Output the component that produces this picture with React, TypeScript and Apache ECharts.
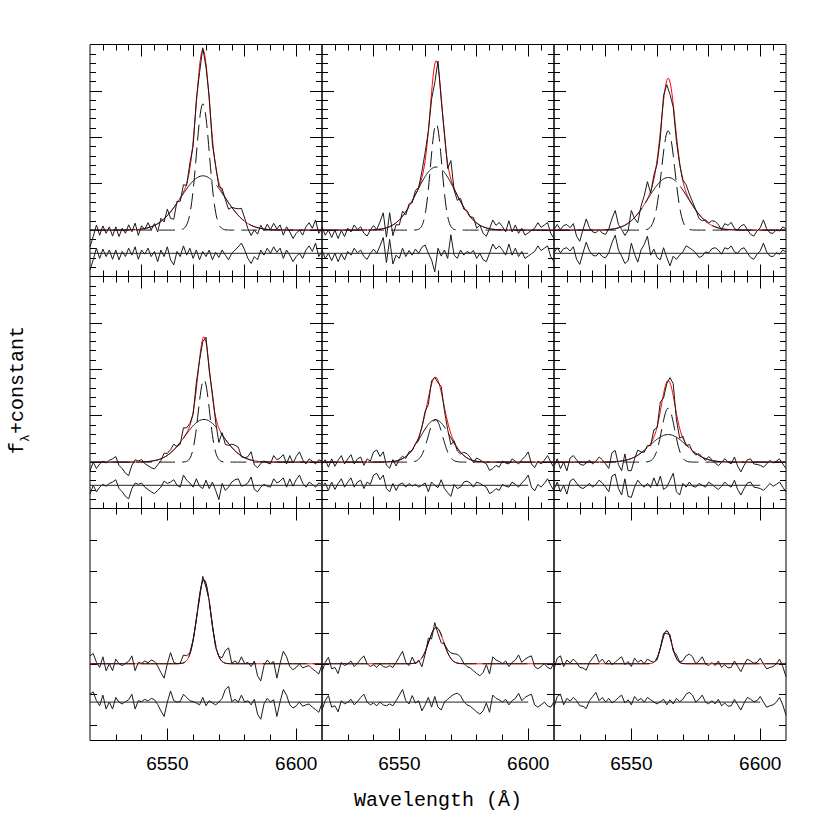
import React, { useEffect, useRef } from "react";
import * as echarts from "echarts";

// ---------- wavelength sampling ----------
const WAVE_MIN = 6520;
const WAVE_MAX = 6610;
const WAVE_STEP = 1.25; // spectral pixel size (Å)
const MODEL_STEP = 0.25;

// ---------- tick labels ----------
const X_LABELS_BOTTOM = [6550, 6600];
const X_MAJOR_TOP = [6540, 6560, 6580, 6600];
const X_MINOR_TOP = [6525, 6530, 6535, 6545, 6550, 6555, 6565, 6570, 6575, 6585, 6590, 6595, 6605];
const X_MAJOR_BOTTOM = [6550, 6600];
const X_MINOR_BOTTOM = [6530, 6540, 6560, 6570, 6580, 6590];
const Y_MAJOR_TOP = [5, 10, 15, 20];
const Y_MINOR_TOP = [1, 2, 3, 4, 6, 7, 8, 9, 11, 12, 13, 14, 16, 17, 18, 19, 21, 22, 23, 24];
const Y_TICKS_BOTTOM = [1.59, 4.93, 8.27, 11.61, 14.95, 18.29, 21.63];

// ---------- fitted model parameters per panel (TL, TM, TR, ML, MM, MR, BL, BM, BR) ----------
const CONTINUUM = [5, 5, 5, 5, 5, 5, 8.27, 8.27, 8.27];
const RESID_BASE = [2.5, 2.5, 2.5, 2.5, 2.5, 2.5, 4.14, 4.14, 4.14];
const RESID_BASE_END = [6610, 6600, 6610, 6610, 6600, 6600, 6610, 6600, 6600];
const LINE_CENTER = [6563.8, 6564.3, 6564.3, 6564.2, 6564.0, 6564.3, 6564.2, 6564.3, 6563.7];
const BROAD_AMP = [5.85, 6.8, 5.67, 4.6, 4.56, 2.97, 0, 0, 0];
const BROAD_SIGMA = [8.5, 7.5, 7.7, 7.4, 5.7, 7.1, 1, 1, 1];
const NARROW_AMP = [13.6, 11.45, 10.7, 8.9, 4.6, 5.82, 9.05, 3.9, 3.55];
const NARROW_SIGMA = [2.5, 2.2, 2.6, 2.2, 2.8, 2.5, 2.63, 2.9, 2.0];

// ---------- residuals (data − fit), one value per spectral pixel ----------
const RESID_TL = [
  -1.8, -0.7, 0.55, -0.55, 0.45, -0.35, 0.35, -0.65, 0.35, -0.7,
  0.2, -0.35, 0.55, -0.2, 0.7, -0.65, 0.35, -0.1, 0.55, -0.35,
  0.2, -0.9, 0.35, -0.35, 0.7, -0.7, -1.25, 0.2, -0.35, 0.8,
  -0.2, 0.55, -0.55, 0.35, -0.7, 0.2, -0.35, 0.35, -0.7, 0.1,
  -0.45, 0.35, -0.2, -0.7, 0, 0.35, 0.7, 1.1, 0.35, -0.55,
  -1.1, -0.35, -0.7, 0.35, -0.2, 0.55, 0, 0.7, 0.1, 0.55,
  -0.55, 0.35, -0.2, -0.9, -0.35, 0, -0.55, 0.35, 0.8, 0.2,
  1.1, -0.35, 0.2,
];
const RESID_TM = [
  0.35, -0.55, 0, -0.8, 0, -0.9, -0.05, -0.7, 0.2, -0.2,
  0.55, 0.05, 0.35, -0.35, -0.65, 0, 0.45, 0, 0.8, 1.7,
  -1.0, 1.5, -1.15, -0.2, -0.55, 0.55, -0.35, 0.3, -0.2, 0.45,
  0, 0.65, 0.9, 0, -0.7, -2.0, 0.55, -0.3, 0.35, -0.55,
  2.0, -0.2, -0.55, 0.35, -0.2, 0.2, 0, 0.3, -0.55, 0,
  -0.7, -0.9, 0, 1.0, 0.45, 0.8, 0.35, -0.2, 1.0, -0.2,
  0.55, -0.35, 0.2, -0.55, -0.3, -0.05, 0.2, 0.8, 0.3, 0.55,
  0.8, -0.35, -0.9,
];
const RESID_TR = [
  0.05, 0.6, 0.05, 0.5, 0.6, 0.25, 0.7, -0.65, -1.2, 0.05,
  1.2, 0.25, -0.2, -0.3, 0.05, -0.35, -0.5, 0.05, 1.15, 1.95,
  0.35, -0.3, -1.1, -0.8, 1.1, -0.1, -0.95, 0.35, 0.95, 1.85,
  -0.2, 0.45, -0.45, -0.7, 0.6, -0.45, -1.35, -0.3, -0.65, -0.2,
  0.15, 0.8, 0.6, 0.35, 0.05, -0.45, -0.3, 0.15, 0.05, 0.5,
  0.6, 0.35, -0.1, 0.6, 0.45, 0.8, 0.15, 0, 0.45, 0.6,
  0.05, -0.45, -0.65, -0.1, 0.25, 1.1, 0.15, -0.3, -0.35, 0.05,
  -0.1, 0.35, 0.15,
];
const RESID_ML = [
  -0.95, 0, -0.7, -0.2, 0.1, -0.1, 0.2, 0.35, 0.6, -0.35,
  -0.7, -1.2, -1.45, -0.35, 0.25, 0.1, 0.25, -0.2, -0.45, -0.7,
  -0.9, -0.55, -0.2, 0.45, 0.2, 0.35, 0.6, 0, -0.2, 1.1,
  0.55, 0.25, -0.2, 0.7, -0.1, -0.35, 0.55, -0.35, 0.35, -0.55,
  -1.55, 0.2, -0.55, -0.2, 0.35, 0.6, 0.7, -0.1, 0, 0.25,
  0.9, -0.45, -0.7, -0.2, 0.1, -0.1, -0.2, 0.7, 0.25, 0.45,
  0.8, -0.2, 0.7, -0.1, 0.6, 1.1, 0.25, -0.2, 0.35, 0.1,
  -0.2, 0.25, 0.1,
];
const RESID_MM = [
  -0.2, 0.25, -0.55, 0.35, -0.45, 0.2, 0.7, -0.2, 0.35, 0.8,
  -0.2, 0.35, 0.55, -0.35, 0.35, 0.1, 1.1, 1.3, 0.6, 1.1,
  -0.35, -0.7, 0.2, -0.55, 0.1, 0.25, -0.2, 0.2, -0.1, 0.1,
  -0.2, 0, 0.25, -0.7, 0.35, 0, -0.25, 0.6, -0.35, -0.8,
  -1.2, 0.1, -0.35, -0.2, 0.35, 0.45, 0.25, -0.2, 0.35, 0.2,
  0, -0.2, -0.9, -0.7, -0.35, -0.55, 0.1, -0.1, -0.2, 0.35,
  0.1, -0.2, 0.25, 0.6, 1.1, -0.2, -0.6, 0.1, -0.2, 0.2,
  0.7, 0, -0.6,
];
const RESID_MR = [
  -0.45, 0.35, -0.7, 0, -0.95, 0.45, 0.7, 0.25, -0.2, -0.35,
  -0.1, 0.2, -0.2, 0.1, 0.55, 0.25, -0.2, -0.7, 1.0, 1.2,
  -0.35, -1.05, 0.7, -1.2, -1.3, -0.2, 0.55, 0.1, -0.2, 0.2,
  -0.25, 0.8, -0.1, 1.0, -0.45, -0.2, 0.55, 1.3, -0.7, -1.05,
  0.2, -0.2, 0.35, -0.1, -0.2, 0.2, 0, -0.2, 0.35, 0.1,
  -0.2, -0.45, -0.1, 0.35, 0, -0.2, 0.55, -0.45, -1.05, -0.35,
  0.25, 0.35, -0.2, -0.25, -0.35, -0.55, -0.2, 0.2, -0.1, 0.1,
  0.35, -0.2, -0.7,
];
const RESID_BL = [
  0.85, 1.1, 0.15, -0.4, 0.75, -0.75, 0, -0.75, 0.5, 0,
  -0.2, 0.05, 0.25, 0.85, -0.75, 0.15, 0.05, 0.3, 0.1, 0.4,
  0.25, -0.25, -0.95, -1.55, 0, 1.2, 0.15, 0, 0.05, 0.85,
  0.5, 0.15, 0.05, -0.1, -0.3, 0.5, -0.4, 0.15, -0.1, -0.3,
  0, 0.4, 1.35, 1.7, 0.05, 0.3, 0, 0.75, 0, 0.15,
  -0.3, 0.3, -1.3, -1.85, -0.2, 0.4, 0, 0.25, -1.55, 0.05,
  1.35, 0.75, -0.3, -0.65, -0.4, 0, -0.45, -0.3, -0.2, -0.55,
  -0.8, -1.1, -0.1,
];
const RESID_BM = [
  -0.85, 0.15, 0.7, -0.55, -0.4, -1.05, 0.15, -0.2, 0, 0.3,
  -0.3, 0.05, 0.5, 0.85, 0, -0.3, -0.1, -0.4, 0, -0.3,
  -0.4, -0.2, -0.4, 0.15, 0.75, 1.35, 0.15, -0.2, 0.7, -0.1,
  0.15, -0.95, -0.3, 0.5, -0.55, 0.6, -0.55, -0.85, 0, 0.3,
  0.6, 0.85, 0.95, 0.7, 0.05, -0.3, -0.45, -0.75, -1.05, -1.3,
  -0.95, -0.1, -1.1, 0.75, 0.4, 0.25, 0, 0.3, -0.3, 0.15,
  0.4, 0.95, 0.15, 0.5, 0.7, 0.85, -0.3, -0.55, -0.3, 0,
  -0.4, -0.55, 0.05,
];
const RESID_BR = [
  -0.55, 0.6, 0.85, -0.3, 0.4, 0.1, 0.5, 0.15, -0.4, -0.45,
  -0.7, 0.15, 0.6, 1.05, 0.15, 0.5, 0, 0.4, -0.1, 0.15,
  0.5, 0.75, -0.1, 0.25, -0.3, 0.6, 0.15, 0.4, 0, 0.5,
  0.25, 0, -0.2, 0.05, 0.3, -0.3, 0.25, -0.2, 0.4, 0.05,
  0.3, 0.85, 1.05, 0.75, 0, 0.3, 0.75, 0, -0.2, 0.15,
  -0.2, 0.3, -0.4, -0.1, -0.45, -0.4, 0.3, -0.3, -0.85, -0.1,
  0.5, 0.3, 0.05, 0.15, 0.6, 0, -0.55, -0.4, -0.3, 0,
  0.5, -0.3, -1.4,
];
const RESIDUALS = [RESID_TL, RESID_TM, RESID_TR, RESID_ML, RESID_MM, RESID_MR, RESID_BL, RESID_BM, RESID_BR];

// ---------- layout ----------
const PANEL_LEFT = [90, 322, 554];
const PANEL_TOP = [44.5, 276.5, 508.5];
const PANEL_SIZE = 232;

function gauss(x: number, a: number, c: number, s: number) {
  const d = (x - c) / s;
  return a * Math.exp(-0.5 * d * d);
}

function buildOption() {
  const grid: any[] = [];
  const xAxis: any[] = [];
  const yAxis: any[] = [];
  const series: any[] = [];

  const modelX: number[] = [];
  for (let x = WAVE_MIN; x <= WAVE_MAX + 1e-9; x += MODEL_STEP) modelX.push(+x.toFixed(2));

  for (let p = 0; p < 9; p++) {
    const r = Math.floor(p / 3);
    const c = p % 3;
    const bottomRow = r === 2;

    grid.push({
      left: PANEL_LEFT[c],
      top: PANEL_TOP[r],
      width: PANEL_SIZE,
      height: PANEL_SIZE,
      show: true,
      borderColor: "#000",
      borderWidth: 1,
      backgroundColor: "transparent",
      containLabel: false,
      outerBoundsMode: "none",
    });

    const mkX = (pos: string, ticks: number[], len: number, labels: boolean) => ({
      type: "value",
      gridIndex: p,
      min: WAVE_MIN,
      max: WAVE_MAX,
      position: pos,
      axisLine: { show: false, onZero: false },
      splitLine: { show: false },
      axisTick: {
        show: true,
        inside: true,
        length: len,
        customValues: ticks,
        lineStyle: { color: "#000", width: 1 },
      },
      axisLabel: labels
        ? {
            show: true,
            customValues: X_LABELS_BOTTOM,
            formatter: (v: number) => String(Math.round(v)),
            fontSize: 19,
            fontFamily: "Liberation Sans",
            color: "#000",
            margin: 13,
          }
        : { show: false },
      silent: true,
    });
    const xMaj = bottomRow ? X_MAJOR_BOTTOM : X_MAJOR_TOP;
    const xMin = bottomRow ? X_MINOR_BOTTOM : X_MINOR_TOP;
    xAxis.push(mkX("bottom", xMaj, 12, bottomRow), mkX("bottom", xMin, 6, false), mkX("top", xMaj, 12, false), mkX("top", xMin, 6, false));

    const mkY = (pos: string, ticks: number[] | null, len: number) => ({
      type: "value",
      gridIndex: p,
      min: 0,
      max: 25,
      position: pos,
      axisLine: { show: false, onZero: false },
      splitLine: { show: false },
      axisTick: ticks
        ? { show: true, inside: true, length: len, customValues: ticks, lineStyle: { color: "#000", width: 1 } }
        : { show: false },
      axisLabel: { show: false },
      silent: true,
    });
    if (bottomRow) {
      yAxis.push(mkY("left", Y_TICKS_BOTTOM, 7), mkY("left", null, 0), mkY("right", Y_TICKS_BOTTOM, 7), mkY("right", null, 0));
    } else {
      yAxis.push(mkY("left", Y_MAJOR_TOP, 12), mkY("left", Y_MINOR_TOP, 6), mkY("right", Y_MAJOR_TOP, 12), mkY("right", Y_MINOR_TOP, 6));
    }

    const cont = CONTINUUM[p];
    const cen = LINE_CENTER[p];
    const model = (x: number) =>
      cont + gauss(x, BROAD_AMP[p], cen, BROAD_SIGMA[p]) + gauss(x, NARROW_AMP[p], cen, NARROW_SIGMA[p]);

    const base = { type: "line", xAxisIndex: p * 4, yAxisIndex: p * 4, symbol: "none", showSymbol: false, silent: true, animation: false, clip: true };

    // total fit (red)
    series.push({ ...base, data: modelX.map((x) => [x, model(x)]), lineStyle: { color: "#ff0000", width: 1 }, z: 2 });

    if (BROAD_AMP[p] > 0) {
      series.push({
        ...base,
        data: modelX.map((x) => [x, cont + gauss(x, BROAD_AMP[p], cen, BROAD_SIGMA[p])]),
        lineStyle: { color: "#111", width: 1, type: [45, 6] },
        z: 3,
      });
      series.push({
        ...base,
        data: modelX.map((x) => [x, cont + gauss(x, NARROW_AMP[p], cen, NARROW_SIGMA[p])]),
        lineStyle: { color: "#111", width: 1, type: [16, 7] },
        z: 3,
      });
    } else {
      series.push({
        ...base,
        data: modelX.map((x) => [x, cont + gauss(x, NARROW_AMP[p], cen, NARROW_SIGMA[p])]),
        lineStyle: { color: "#111", width: 1, type: [45, 6] },
        z: 3,
      });
    }

    const resid = RESIDUALS[p];
    const waves = resid.map((_, i) => WAVE_MIN + i * WAVE_STEP);
    // observed spectrum
    series.push({ ...base, data: waves.map((x, i) => [x, model(x) + resid[i]]), lineStyle: { color: "#1a1a1a", width: 1 }, z: 4 });
    // residuals
    series.push({ ...base, data: waves.map((x, i) => [x, RESID_BASE[p] + resid[i]]), lineStyle: { color: "#1a1a1a", width: 1 }, z: 4 });
    // residual zero level
    series.push({
      ...base,
      data: [
        [WAVE_MIN, RESID_BASE[p]],
        [RESID_BASE_END[p], RESID_BASE[p]],
      ],
      lineStyle: { color: "#222", width: 1 },
      z: 3,
    });
  }

  const titleFont = "Liberation Mono";
  const graphic = [
    {
      type: "text",
      x: 438,
      y: 800,
      style: {
        text: "Wavelength (Å)",
        fontSize: 20,
        fontFamily: titleFont,
        fill: "#000",
        align: "center",
        verticalAlign: "middle",
        textAlign: "center",
        textVerticalAlign: "middle",
      },
      silent: true,
    },
    {
      type: "text",
      x: 27,
      y: 454,
      rotation: Math.PI / 2,
      style: { text: "f", fontSize: 20, fontFamily: titleFont, fill: "#000", align: "left", verticalAlign: "bottom", textAlign: "left", textVerticalAlign: "bottom" },
      silent: true,
    },
    {
      type: "text",
      x: 32,
      y: 442,
      rotation: Math.PI / 2,
      style: { text: "λ", fontSize: 13, fontFamily: titleFont, fill: "#000", align: "left", verticalAlign: "bottom", textAlign: "left", textVerticalAlign: "bottom" },
      silent: true,
    },
    {
      type: "text",
      x: 27,
      y: 434,
      rotation: Math.PI / 2,
      style: { text: "+constant", fontSize: 20, fontFamily: titleFont, fill: "#000", align: "left", verticalAlign: "bottom", textAlign: "left", textVerticalAlign: "bottom" },
      silent: true,
    },
  ];

  return {
    animation: false,
    backgroundColor: "#fff",
    grid,
    xAxis,
    yAxis,
    series,
    graphic,
  };
}

export default function App() {
  const ref = useRef<HTMLDivElement>(null);
  useEffect(() => {
    document.body.style.margin = "0";
    if (!ref.current) return;
    const chart = echarts.init(ref.current, null, { renderer: "svg" });
    chart.setOption(buildOption() as any);
    return () => chart.dispose();
  }, []);
  return <div ref={ref} style={{ width: 830, height: 830 }} />;
}
